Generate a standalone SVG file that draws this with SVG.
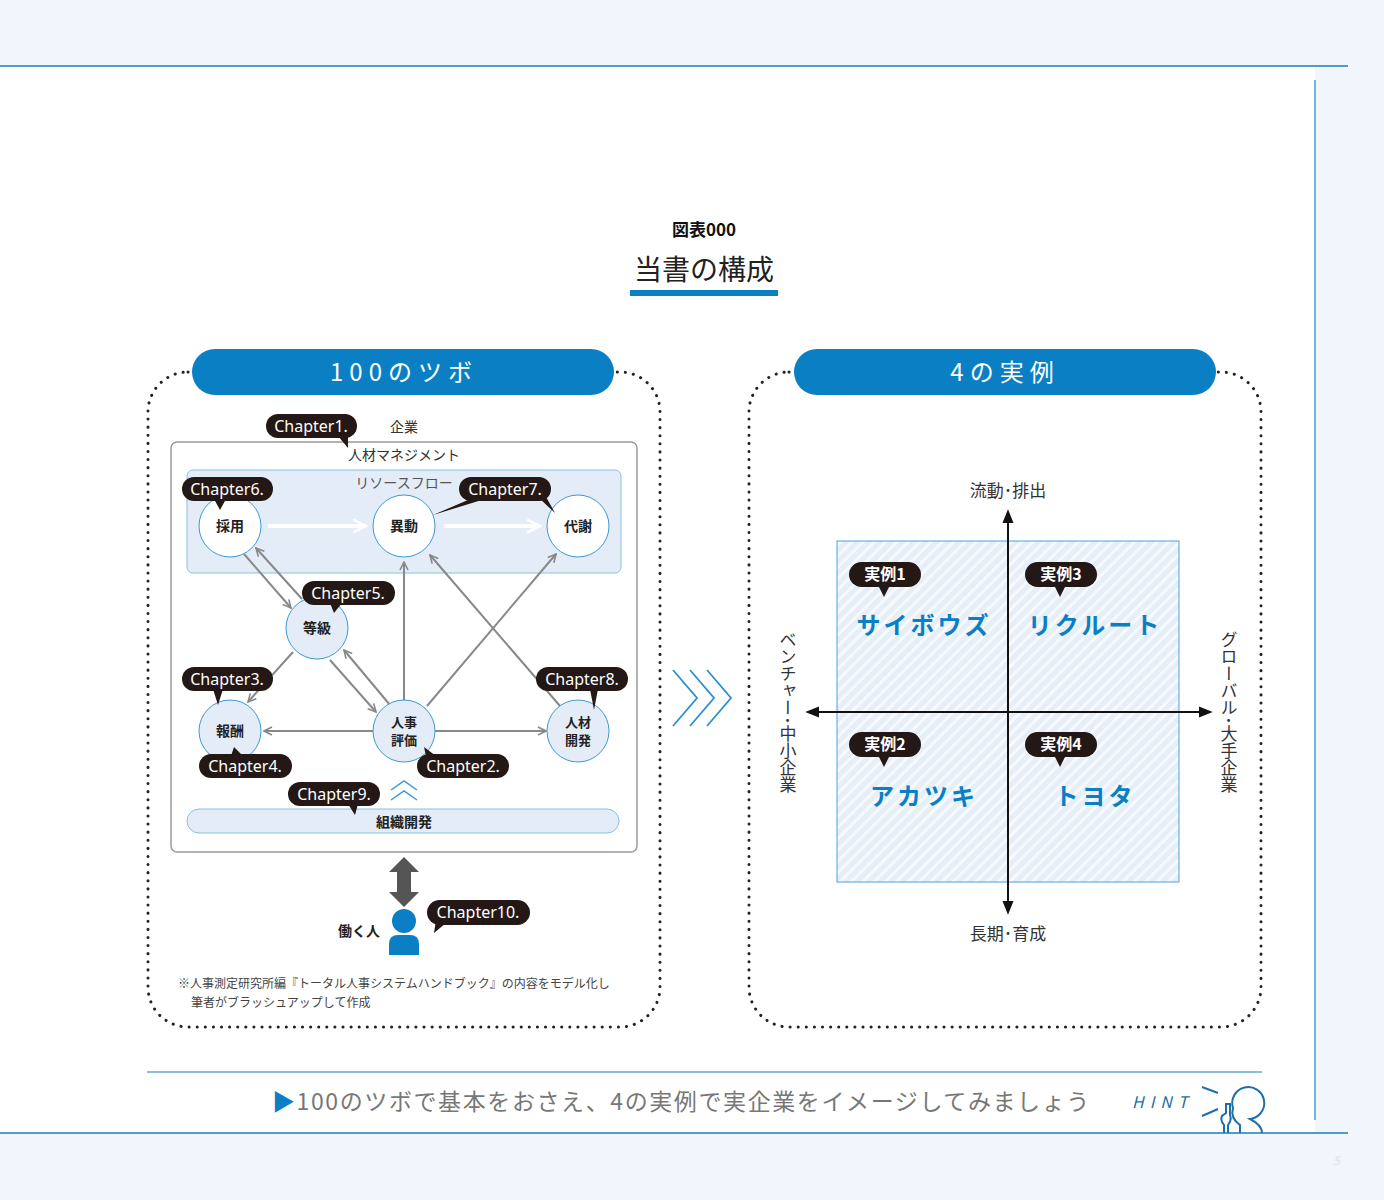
<svg xmlns="http://www.w3.org/2000/svg" width="1384" height="1200" viewBox="0 0 1384 1200">
<defs>
<style>
text{font-family:"Noto Sans CJK JP","Noto Sans",sans-serif}
.ch rect{fill:#231815}
.ch path{fill:#231815}
.ch text{fill:#fff;font-size:16px;font-family:"Noto Sans","Noto Sans CJK JP",sans-serif}
.nd{stroke:#3a9ad6;stroke-width:1}
.nt{font-size:14px;font-weight:bold;fill:#222;text-anchor:middle}
.nt2{font-size:13px;font-weight:bold;fill:#222;text-anchor:middle}
.ar{stroke:#888;stroke-width:2;fill:none;marker-end:url(#ah)}
.dot{fill:none;stroke:#222;stroke-width:3;stroke-dasharray:0.1 8;stroke-linecap:round}
.nm{font-size:24px;font-weight:bold;fill:#0a7fc4;text-anchor:middle;letter-spacing:3px}
.ax{font-size:17px;fill:#333;text-anchor:middle}
</style>
<marker id="ah" viewBox="0 0 10 10" refX="9" refY="5" markerWidth="5" markerHeight="5" orient="auto"><path d="M1 1L9 5L1 9" fill="none" stroke="#888" stroke-width="1.6"/></marker>
<marker id="ahw" viewBox="0 0 10 10" refX="9" refY="5" markerWidth="4" markerHeight="4" orient="auto"><path d="M1 1L9 5L1 9" fill="none" stroke="#fff" stroke-width="1.6"/></marker>
<marker id="ahb" viewBox="0 0 10 10" refX="8" refY="5" markerWidth="7" markerHeight="7" orient="auto"><path d="M0 1L10 5L0 9z" fill="#111"/></marker>
<pattern id="hatch" width="8" height="8" patternUnits="userSpaceOnUse" patternTransform="rotate(45)"><rect width="8" height="8" fill="#e6eef8"/><rect width="3" height="8" fill="#f7fafd"/></pattern>
</defs>
<rect width="1384" height="1200" fill="#f1f5fc"/>
<rect x="0" y="66" width="1315" height="1067" fill="#fff"/>
<line x1="0" y1="66" x2="1348" y2="66" stroke="#1d7cb8" stroke-width="1.5"/>
<line x1="1315" y1="80" x2="1315" y2="1120" stroke="#4a9ad0" stroke-width="1.5"/>
<line x1="0" y1="1133" x2="1348" y2="1133" stroke="#1d7cb8" stroke-width="1.5"/>
<text x="1333" y="1165" font-size="12" fill="#dde5f0" font-style="italic">5</text>

<g id="title">
<text x="704" y="236" font-size="17" font-weight="bold" fill="#111" text-anchor="middle">図表000</text>
<text x="704" y="280" font-size="28" fill="#222" text-anchor="middle">当書の構成</text>
<rect x="630" y="290" width="148" height="6" fill="#0a7fc4"/>
</g>

<g id="left-panel">
<rect x="148" y="372" width="512" height="655" rx="40" class="dot"/>
<rect x="192" y="349" width="422" height="46" rx="23" fill="#0a7fc4"/>
<text x="404" y="381" font-size="24" fill="#fff" text-anchor="middle" letter-spacing="6">100のツボ</text>
<rect x="171" y="442" width="466" height="410" rx="6" fill="#fff" stroke="#999" stroke-width="1.5"/>
<text x="404" y="432" font-size="14" fill="#333" text-anchor="middle">企業</text>
<text x="404" y="460" font-size="14" fill="#333" text-anchor="middle">人材マネジメント</text>
<rect x="187" y="470" width="434" height="103" rx="6" fill="#e3ecf7" stroke="#8cc0e3"/>
<text x="404" y="488" font-size="14" fill="#555" text-anchor="middle">リソースフロー</text>
<rect x="187" y="809" width="432" height="24" rx="12" fill="#e3ecf7" stroke="#8cc0e3"/>
<text x="404" y="827" class="nt">組織開発</text>
</g>

<g id="right-panel">
<rect x="749" y="372" width="512" height="655" rx="40" class="dot"/>
<rect x="794" y="349" width="422" height="46" rx="23" fill="#0a7fc4"/>
<text x="1005" y="381" font-size="24" fill="#fff" text-anchor="middle" letter-spacing="6">4の実例</text>
<rect x="837" y="541" width="342" height="341" fill="url(#hatch)" stroke="#6ab0e0" stroke-width="1.2"/>
<text x="1008" y="497" class="ax">流動･排出</text>
<text x="1008" y="940" class="ax">長期･育成</text>
<text x="788" y="712" class="ax" writing-mode="vertical-rl">ベンチャー･中小企業</text>
<text x="1229" y="712" class="ax" writing-mode="vertical-rl">グローバル･大手企業</text>
</g>

<g id="connectors">
<line x1="268" y1="526" x2="366" y2="526" stroke="#fff" stroke-width="4" marker-end="url(#ahw)"/>
<line x1="444" y1="526" x2="540" y2="526" stroke="#fff" stroke-width="4" marker-end="url(#ahw)"/>
<line x1="244" y1="554" x2="291" y2="608" class="ar"/>
<line x1="302" y1="599" x2="256" y2="548" class="ar"/>
<line x1="293" y1="652" x2="248" y2="702" class="ar"/>
<line x1="330" y1="660" x2="376" y2="712" class="ar"/>
<line x1="390" y1="705" x2="344" y2="650" class="ar"/>
<line x1="404" y1="700" x2="404" y2="562" class="ar"/>
<line x1="427" y1="706" x2="556" y2="554" class="ar"/>
<line x1="560" y1="706" x2="430" y2="555" class="ar"/>
<line x1="373" y1="731" x2="264" y2="731" class="ar"/>
<line x1="435" y1="731" x2="546" y2="731" class="ar"/>
<path d="M391 790L404 781L417 790M391 800L404 791L417 800" fill="none" stroke="#3a9ad6" stroke-width="1.5"/>
<path d="M404 857L419 872H411V892H419L404 907L389 892H397V872H389Z" fill="#555"/>
<path d="M673 670L697 698L673 726M690 670L714 698L690 726M707 670L731 698L707 726" fill="none" stroke="#2a8fd0" stroke-width="1.8"/>
<line x1="1008" y1="712" x2="1008" y2="512" stroke="#111" stroke-width="2" marker-end="url(#ahb)"/>
<line x1="1008" y1="712" x2="1008" y2="912" stroke="#111" stroke-width="2" marker-end="url(#ahb)"/>
<line x1="1008" y1="712" x2="1210" y2="712" stroke="#111" stroke-width="2" marker-end="url(#ahb)"/>
<line x1="1008" y1="712" x2="808" y2="712" stroke="#111" stroke-width="2" marker-end="url(#ahb)"/>
</g>

<g id="n-saiyo"><circle cx="230" cy="526" r="31" fill="#fff" class="nd"/><text x="230" y="531" class="nt">採用</text></g>
<g id="n-ido"><circle cx="404" cy="526" r="31" fill="#fff" class="nd"/><text x="404" y="531" class="nt">異動</text></g>
<g id="n-taisha"><circle cx="578" cy="526" r="31" fill="#fff" class="nd"/><text x="578" y="531" class="nt">代謝</text></g>
<g id="n-tokyu"><circle cx="317" cy="628" r="31" fill="#e3ecf7" class="nd"/><text x="317" y="633" class="nt">等級</text></g>
<g id="n-hoshu"><circle cx="230" cy="731" r="31" fill="#e3ecf7" class="nd"/><text x="230" y="736" class="nt">報酬</text></g>
<g id="n-hyoka"><circle cx="404" cy="731" r="31" fill="#e3ecf7" class="nd"/><text x="404" y="727" class="nt2">人事</text><text x="404" y="745" class="nt2">評価</text></g>
<g id="n-kaihatsu"><circle cx="578" cy="731" r="31" fill="#e3ecf7" class="nd"/><text x="578" y="727" class="nt2">人材</text><text x="578" y="745" class="nt2">開発</text></g>

<g id="chapters" class="ch">
<g><rect x="266" y="414" width="91" height="24" rx="12"/><path d="M338 436L348 448L348 436Z"/><text x="311" y="432" text-anchor="middle">Chapter1.</text></g>
<g><rect x="182" y="477" width="91" height="24" rx="12"/><path d="M214 499L220 510L226 499Z"/><text x="227" y="495" text-anchor="middle">Chapter6.</text></g>
<g><rect x="459" y="477" width="92" height="24" rx="12"/><path d="M475 497L433 515L485 499Z M538 497L555 513L545 495Z"/><text x="505" y="495" text-anchor="middle">Chapter7.</text></g>
<g><rect x="302" y="581" width="93" height="24" rx="12"/><path d="M330 603L334 613L342 603Z"/><text x="348" y="599" text-anchor="middle">Chapter5.</text></g>
<g><rect x="182" y="667" width="91" height="24" rx="12"/><path d="M213 689L218 705L223 689Z"/><text x="227" y="685" text-anchor="middle">Chapter3.</text></g>
<g><rect x="536" y="667" width="92" height="24" rx="12"/><path d="M590 689L594 710L598 689Z"/><text x="582" y="685" text-anchor="middle">Chapter8.</text></g>
<g><rect x="199" y="754" width="93" height="24" rx="12"/><path d="M231 756L234 747L243 756Z"/><text x="245" y="772" text-anchor="middle">Chapter4.</text></g>
<g><rect x="417" y="754" width="92" height="24" rx="12"/><path d="M426 756L424 747L436 756Z"/><text x="463" y="772" text-anchor="middle">Chapter2.</text></g>
<g><rect x="288" y="782" width="92" height="24" rx="12"/><path d="M348 804L355 815L358 804Z"/><text x="334" y="800" text-anchor="middle">Chapter9.</text></g>
<g><rect x="427" y="900" width="103" height="25" rx="12.5"/><path d="M436 920L434 933L446 923Z"/><text x="478" y="918" text-anchor="middle">Chapter10.</text></g>
</g>

<g id="worker">
<circle cx="404" cy="921" r="12" fill="#0a7fc4"/>
<path d="M389 955V944Q389 935 398 935H410Q419 935 419 944V955Z" fill="#0a7fc4"/>
<text x="359" y="936" font-size="14" fill="#222" text-anchor="middle" font-weight="bold">働く人</text>
<text x="178" y="988" font-size="12" fill="#444">※人事測定研究所編『トータル人事システムハンドブック』の内容をモデル化し</text>
<text x="191" y="1007" font-size="12" fill="#444">筆者がブラッシュアップして作成</text>
</g>

<g id="cases" class="ch">
<g><rect x="849" y="562" width="72" height="25" rx="12.5"/><path d="M878 585L884 597L890 585Z"/><text x="885" y="580" text-anchor="middle" font-weight="bold" style="font-family:'Noto Sans CJK JP',sans-serif">実例1</text></g>
<g><rect x="1025" y="562" width="72" height="25" rx="12.5"/><path d="M1054 585L1060 597L1066 585Z"/><text x="1061" y="580" text-anchor="middle" font-weight="bold" style="font-family:'Noto Sans CJK JP',sans-serif">実例3</text></g>
<g><rect x="849" y="732" width="72" height="25" rx="12.5"/><path d="M878 755L884 767L890 755Z"/><text x="885" y="750" text-anchor="middle" font-weight="bold" style="font-family:'Noto Sans CJK JP',sans-serif">実例2</text></g>
<g><rect x="1025" y="732" width="72" height="25" rx="12.5"/><path d="M1054 755L1060 767L1066 755Z"/><text x="1061" y="750" text-anchor="middle" font-weight="bold" style="font-family:'Noto Sans CJK JP',sans-serif">実例4</text></g>
</g>
<g id="names">
<text x="924" y="634" class="nm">サイボウズ</text>
<text x="1095" y="634" class="nm">リクルート</text>
<text x="924" y="805" class="nm">アカツキ</text>
<text x="1095" y="805" class="nm">トヨタ</text>
</g>

<g id="footer">
<line x1="147" y1="1072" x2="1262" y2="1072" stroke="#1d7cb8" stroke-width="1.2"/>
<text x="272" y="1110" font-size="23" fill="#777" letter-spacing="1.6"><tspan fill="#0a7fc4">▶</tspan>100のツボで基本をおさえ、4の実例で実企業をイメージしてみましょう</text>
<text x="1132" y="1108" font-size="16" fill="#1d6fa8" font-style="italic" letter-spacing="6" font-family="Liberation Sans">HINT</text>
<g fill="none" stroke="#1d6fa8" stroke-width="2">
<path d="M1202 1087L1218 1093M1202 1116L1218 1109"/>
<path d="M1240 1133V1125Q1230 1118 1233 1108A16 16 0 1 1 1250 1119Q1262 1125 1262 1133"/>
<path d="M1224 1133V1125Q1220 1120 1222 1116L1226 1113V1104H1230V1115Q1232 1120 1228 1125V1133"/>
</g>
</g>
</svg>
